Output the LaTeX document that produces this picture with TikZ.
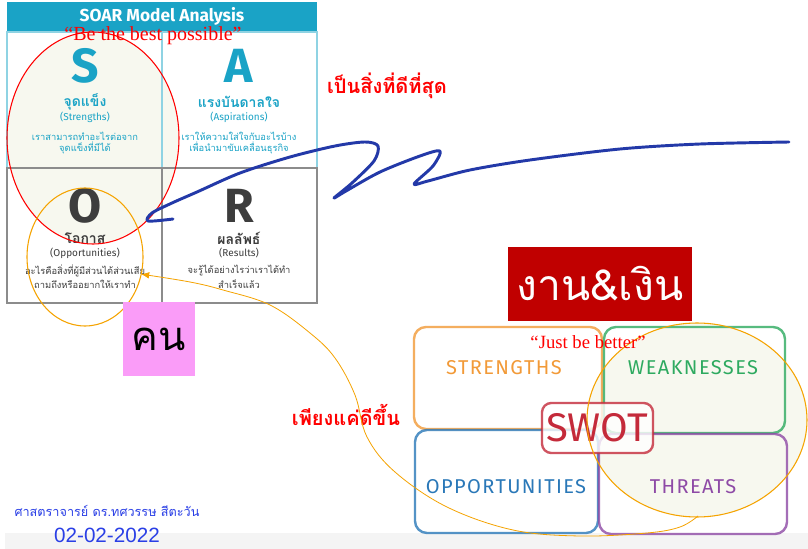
\documentclass[tikz,border=0pt]{standalone}
\usepackage{fontspec}
\setmainfont{Liberation Serif}
\newfontfamily\thaifont[Script=Thai]{Loma}
\newfontfamily\soarfont{Fira Sans}
\newfontfamily\sketchfont[LetterSpace=7]{Fira Sans}
\newfontfamily\datefont{Liberation Sans}
\usetikzlibrary{shapes.geometric,arrows.meta}

\definecolor{soarteal}{HTML}{1AA3C6}
\definecolor{soarline}{HTML}{8FD3E3}
\definecolor{soardark}{HTML}{3D3D3D}
\definecolor{soargray}{HTML}{8C8C8C}
\definecolor{ringbeige}{HTML}{F7F8EF}
\definecolor{notered}{HTML}{FF0000}
\definecolor{ringorange}{HTML}{F5A300}
\definecolor{scribbleblue}{HTML}{2339A8}
\definecolor{boxred}{HTML}{C00000}
\definecolor{peoplepink}{HTML}{FA9CF8}
\definecolor{signblue}{HTML}{2A3FE6}
\definecolor{strorange}{HTML}{F29A38}
\definecolor{weakgreen}{HTML}{2EAA60}
\definecolor{oppblue}{HTML}{2A78B8}
\definecolor{thrpurple}{HTML}{8E4AA6}
\definecolor{swotred}{HTML}{C42A3A}
\definecolor{bandgray}{HTML}{F4F4F4}

\tikzset{
    soarletter/.style={font=\soarfont\bfseries\fontsize{36}{36}\selectfont},
    soarhead/.style={font=\thaifont\bfseries\fontsize{10.5}{11}\selectfont},
    soareng/.style={font=\soarfont\fontsize{7.5}{8}\selectfont},
    soardesc/.style={font=\thaifont\fontsize{7}{8}\selectfont},
    rednote/.style={text=notered, font=\thaifont\bfseries\fontsize{15}{15}\selectfont},
    quotenote/.style={text=notered, font=\fontsize{15}{15}\selectfont},
    sketchbox/.style={line width=1.8pt, opacity=0.8, rounded corners=9pt},
    sketchlabel/.style={font=\sketchfont\fontsize{15}{15}\selectfont},
    ring/.style={ellipse, draw, inner sep=0pt, outer sep=0pt},
}

\begin{document}
\begin{tikzpicture}[x=0.75pt, y=-0.75pt]

    \useasboundingbox (0, 0) rectangle (808, 549);
    \fill[white] (0, 0) rectangle (808, 549);
    \fill[bandgray] (5, 533) rectangle (808, 549);

    \fill[ringbeige] (93, 138) ellipse [x radius=86, y radius=106];
    \fill[ringbeige] (697, 420) ellipse [x radius=110, y radius=97];

    \fill[soarteal] (7, 2) rectangle (317, 32);
    \draw[soarline, line width=0.8pt] (7, 32) rectangle (317, 168);
    \draw[soarline, line width=0.8pt] (162, 32) -- (162, 168);
    \draw[soargray, line width=0.8pt] (7, 168) rectangle (317, 303);
    \draw[soargray, line width=0.8pt] (162, 168) -- (162, 303);

    \node[text=white, font=\soarfont\bfseries\fontsize{13}{13}\selectfont] (soartitle) at (162, 16) {SOAR Model Analysis};

    \node[soarletter, text=soarteal] (sletter) at (85, 66) {S};
    \node[soarhead, text=soarteal] (shead) at (85, 102) {จุดแข็ง};
    \node[soareng, text=soarteal] (seng) at (85, 117) {(Strengths)};
    \node[soardesc, text=soarteal] (sdesca) at (85, 136) {เราสามารถทำอะไรต่อจาก};
    \node[soardesc, text=soarteal] (sdescb) at (85, 148) {จุดแข็งที่มีได้};

    \node[soarletter, text=soarteal] (aletter) at (239, 66) {A};
    \node[soarhead, text=soarteal] (ahead) at (239, 102) {แรงบันดาลใจ};
    \node[soareng, text=soarteal] (aeng) at (239, 117) {(Aspirations)};
    \node[soardesc, text=soarteal] (adesca) at (239, 136) {เราให้ความใส่ใจกับอะไรบ้าง};
    \node[soardesc, text=soarteal] (adescb) at (239, 148) {เพื่อนำมาขับเคลื่อนธุรกิจ};

    \node[soarletter, text=soardark] (oletter) at (85, 206) {O};
    \node[soarhead, text=soardark] (ohead) at (85, 238) {โอกาส};
    \node[soareng, text=soardark] (oeng) at (85, 253) {(Opportunities)};
    \node[soardesc, text=soardark] (odesca) at (85, 271) {อะไรคือสิ่งที่ผู้มีส่วนได้ส่วนเสีย};
    \node[soardesc, text=soardark] (odescb) at (85, 284) {ถามถึงหรืออยากให้เราทำ};

    \node[soarletter, text=soardark] (rletter) at (239, 206) {R};
    \node[soarhead, text=soardark] (rhead) at (239, 238) {ผลลัพธ์};
    \node[soareng, text=soardark] (reng) at (239, 253) {(Results)};
    \node[soardesc, text=soardark] (rdesca) at (239, 271) {จะรู้ได้อย่างไรว่าเราได้ทำ};
    \node[soardesc, text=soardark] (rdescb) at (239, 284) {สำเร็จแล้ว};

    \node[ring, color=notered, line width=0.8pt, minimum width=129pt, minimum height=159pt] (bestring) at (93, 138) {};
    \node[ring, color=ringorange, line width=0.8pt, minimum width=87pt, minimum height=103.5pt] (oring) at (85, 257) {};
    \node[quotenote] (bestquote) at (153, 36) {“Be the best possible”};
    \node[rednote] (bestnote) at (387, 86) {เป็นสิ่งที่ดีที่สุด};

    \node[fill=peoplepink, minimum width=54pt, minimum height=55.5pt, font=\thaifont\fontsize{30}{30}\selectfont] (people) at (159, 339) {คน};
    \node[fill=boxred, text=white, minimum width=138pt, minimum height=55.5pt, font=\thaifont\fontsize{32}{32}\selectfont] (workmoney) at (600, 284) {งาน\&เงิน};

    \draw[sketchbox, strorange] (414, 327) rectangle (602, 429);
    \draw[sketchbox, weakgreen] (604, 327) rectangle (785, 433);
    \draw[sketchbox, oppblue] (415, 430) rectangle (598, 533);
    \draw[sketchbox, thrpurple] (599, 434) rectangle (787, 534);
    \draw[sketchbox, swotred, fill=white, rounded corners=7pt] (542, 403) rectangle (653, 453);

    \node[sketchlabel, text=strorange] (strlabel) at (504, 368) {STRENGTHS};
    \node[sketchlabel, text=weakgreen] (weaklabel) at (693, 368) {WEAKNESSES};
    \node[sketchlabel, text=oppblue] (opplabel) at (506, 487) {OPPORTUNITIES};
    \node[sketchlabel, text=thrpurple] (thrlabel) at (693, 487) {THREATS};
    \node[text=swotred, font=\soarfont\fontsize{30}{30}\selectfont] (swotlabel) at (597, 428) {SWOT};

    \node[ring, color=ringorange, line width=0.8pt, minimum width=165pt, minimum height=145.5pt] (swotring) at (697, 420) {};
    \node[quotenote, font=\fontsize{14}{14}\selectfont] (betterquote) at (588, 342) {“Just be better”};
    \node[rednote] (betternote) at (346, 415) {เพียงแค่ดีขึ้น};

    \coordinate (swotcurl) at (698, 516);
    \draw[ringorange, line width=0.6pt, -{Latex[length=6pt, width=5pt]}] plot[smooth, tension=0.6] coordinates {(swotcurl) (680, 527) (647, 533) (580, 536) (513, 530) (447, 507) (395, 472) (367, 437) (355, 395) (335, 358) (310, 333) (270, 305) (223, 290) (190, 282) (oring.-17)};

    \draw[scribbleblue, line width=2.2pt, line cap=round, line join=round] plot[smooth, tension=0.5] coordinates {(173, 219) (148, 221) (152, 213) (172, 203) (197, 192) (240, 173) (290, 157) (335, 146) (365, 142) (378, 146) (374, 161) (352, 183) (334, 198) (346, 191) (380, 172) (420, 156) (440, 151) (433, 166) (414, 184) (428, 181) (470, 170) (530, 160) (620, 149) (700, 144) (789, 142)};

    \node[text=signblue, font=\thaifont\fontsize{9.5}{10}\selectfont] (author) at (107, 511) {ศาสตราจารย์ ดร.ทศวรรษ สีตะวัน};
    \node[text=signblue, font=\datefont\fontsize{15.5}{16}\selectfont] (signdate) at (107, 535) {02-02-2022};

\end{tikzpicture}
\end{document}
